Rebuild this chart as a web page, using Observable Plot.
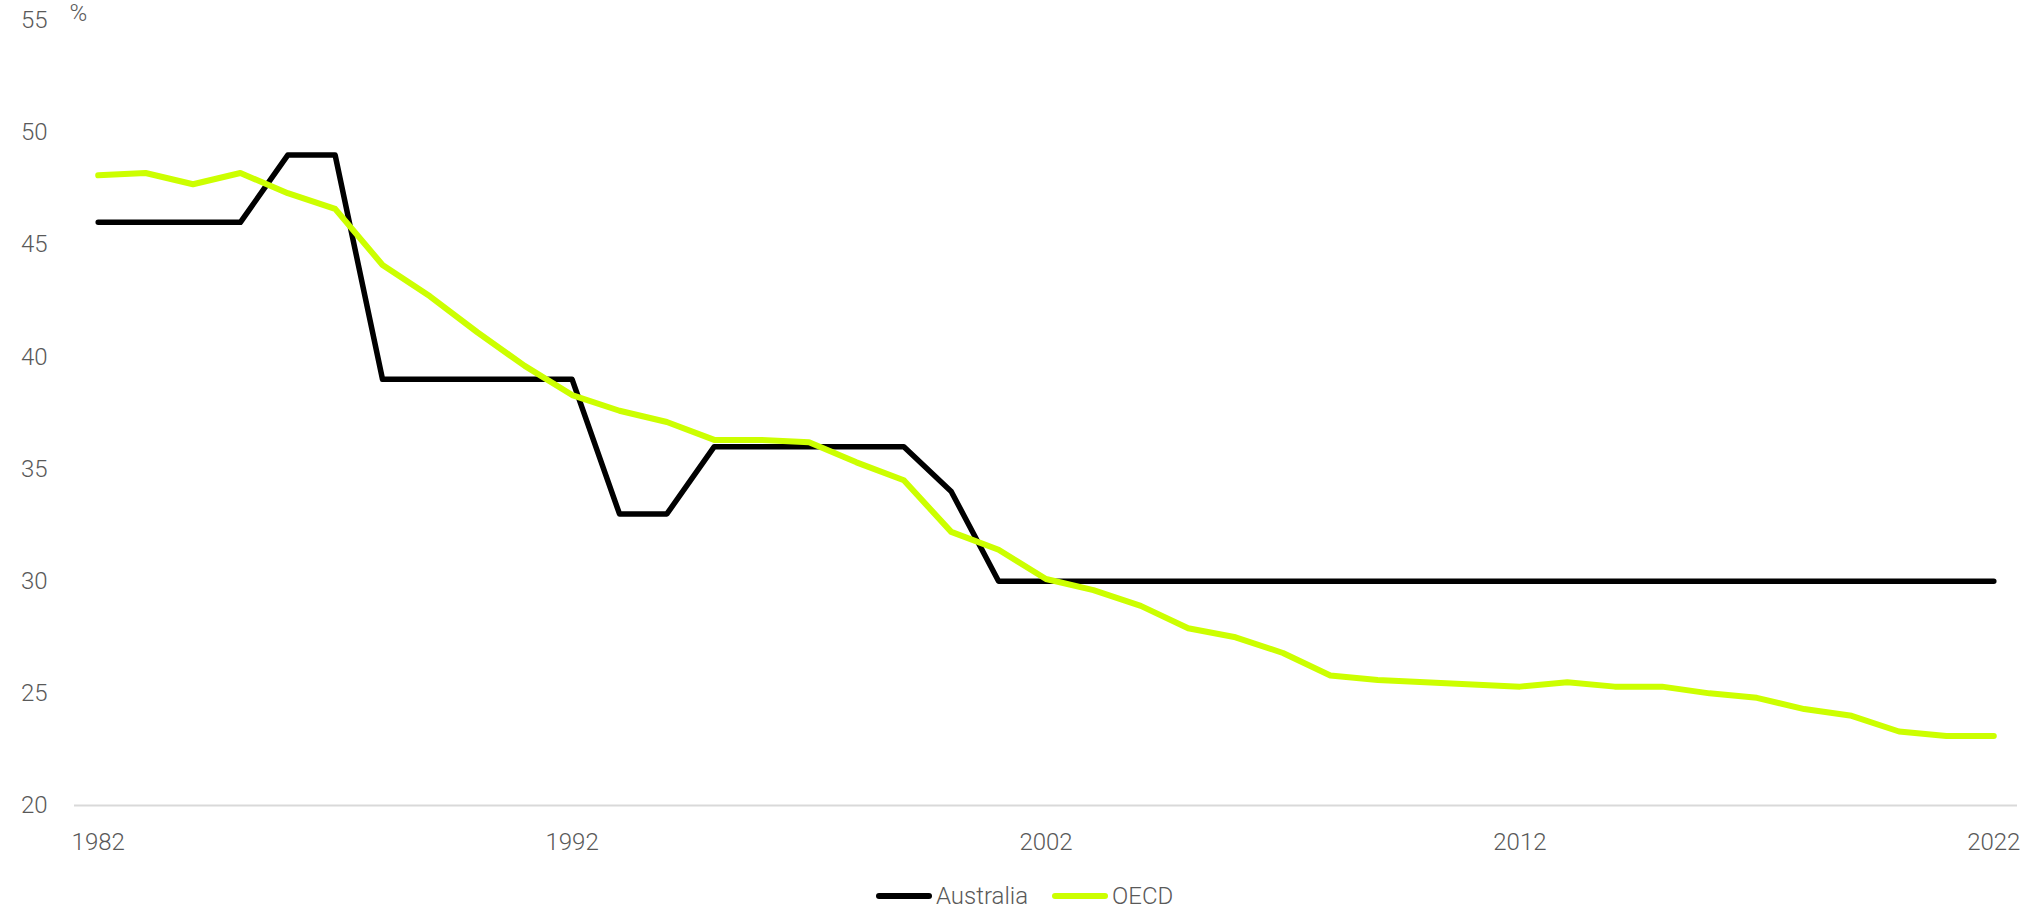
<!DOCTYPE html>
<html>
<head>
<meta charset="utf-8">
<script src="https://cdn.jsdelivr.net/npm/d3@7"></script>
<script src="https://cdn.jsdelivr.net/npm/@observablehq/plot@0.6"></script>
<style>
  html, body { margin: 0; padding: 0; background: #ffffff; }
  #chart svg { display: block; }
  .legend {
    height: 41px;
    box-sizing: border-box;
    padding-top: 10px;
    display: flex;
    align-items: center;
    padding-left: 876px;
    font-family: Roboto, sans-serif;
    font-weight: 300;
    font-size: 24px;
    color: #595959;
  }
  .legend .item { display: flex; align-items: center; margin-right: 24px; }
  .legend .swatch { width: 56px; height: 6px; border-radius: 3px; margin-right: 4px; }
</style>
</head>
<body>
<div id="chart"></div>
<div class="legend" id="legend"></div>
<script>
// Company tax rate, Australia vs OECD average, 1982–2022 (%)
const years = [
  1982, 1983, 1984, 1985, 1986, 1987, 1988, 1989, 1990, 1991,
  1992, 1993, 1994, 1995, 1996, 1997, 1998, 1999, 2000, 2001,
  2002, 2003, 2004, 2005, 2006, 2007, 2008, 2009, 2010, 2011,
  2012, 2013, 2014, 2015, 2016, 2017, 2018, 2019, 2020, 2021,
  2022
];
const australia = [
  46, 46, 46, 46, 49, 49, 39, 39, 39, 39,
  39, 33, 33, 36, 36, 36, 36, 36, 34, 30,
  30, 30, 30, 30, 30, 30, 30, 30, 30, 30,
  30, 30, 30, 30, 30, 30, 30, 30, 30, 30,
  30
];
const oecd = [
  48.1, 48.2, 47.7, 48.2, 47.3, 46.6, 44.1, 42.7, 41.1, 39.6,
  38.3, 37.6, 37.1, 36.3, 36.3, 36.2, 35.3, 34.5, 32.2, 31.4,
  30.1, 29.6, 28.9, 27.9, 27.5, 26.8, 25.8, 25.6, 25.5, 25.4,
  25.3, 25.5, 25.3, 25.3, 25.0, 24.8, 24.3, 24.0, 23.3, 23.1,
  23.1
];
const seriesNames = ["Australia", "OECD"];
const seriesColors = ["#000000", "#ccff00"];
const yTicks = [20, 25, 30, 35, 40, 45, 50, 55];
const xTicks = [1982, 1992, 2002, 2012, 2022];

const ausRows = years.map((year, i) => ({year, value: australia[i], series: seriesNames[0]}));
const oecdRows = years.map((year, i) => ({year, value: oecd[i], series: seriesNames[1]}));

const chart = Plot.plot({
  width: 2036,
  height: 870,
  marginLeft: 74,
  marginRight: 19,
  marginTop: 20,
  marginBottom: 65,
  style: {
    fontFamily: "Roboto, sans-serif",
    fontWeight: 300,
    fontSize: "24px",
    color: "#595959",
    background: "#ffffff"
  },
  x: {domain: [1981.5, 2022.5]},
  y: {domain: [20, 55]},
  color: {domain: seriesNames, range: seriesColors},
  marks: [
    Plot.axisY({
      ticks: yTicks,
      tickSize: 0,
      tickPadding: 27,
      label: "%",
      labelAnchor: "top",
      labelArrow: "none",
      labelOffset: 5
    }),
    Plot.axisX({
      ticks: xTicks,
      tickSize: 0,
      tickPadding: 27,
      tickFormat: d => String(d),
      label: null
    }),
    Plot.ruleY([20], {stroke: "#d9d9d9", strokeWidth: 2}),
    Plot.line(ausRows, {
      x: "year", y: "value", stroke: "series",
      strokeWidth: 5.5, strokeLinecap: "round", strokeLinejoin: "round"
    }),
    Plot.line(oecdRows, {
      x: "year", y: "value", stroke: "series",
      strokeWidth: 6, strokeLinecap: "round", strokeLinejoin: "round"
    })
  ]
});
document.getElementById("chart").appendChild(chart);

const legend = document.getElementById("legend");
seriesNames.forEach((name, i) => {
  const item = document.createElement("div");
  item.className = "item";
  const sw = document.createElement("span");
  sw.className = "swatch";
  sw.style.background = seriesColors[i];
  const label = document.createElement("span");
  label.textContent = name;
  item.appendChild(sw);
  item.appendChild(label);
  legend.appendChild(item);
});
</script>
</body>
</html>
